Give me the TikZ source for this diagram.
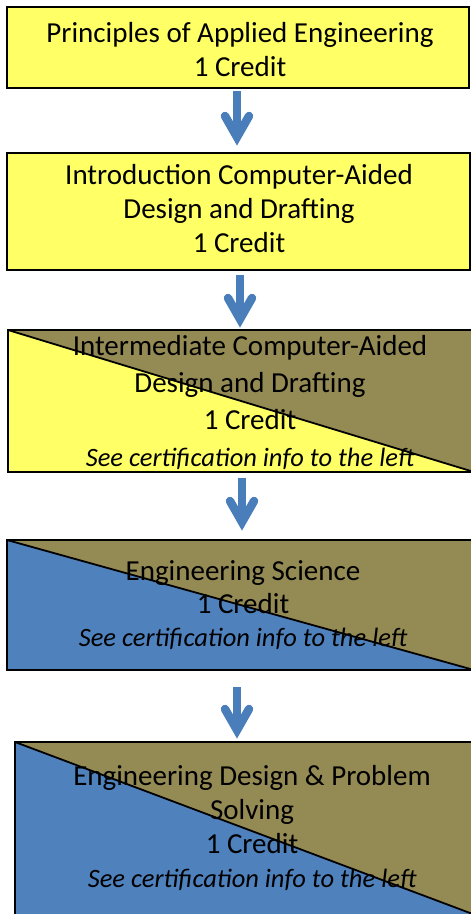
\documentclass[tikz,border=0pt]{standalone}
\usepackage{fontspec}
\setmainfont{Carlito}
\definecolor{boxyellow}{HTML}{FFFF66}
\definecolor{boxolive}{HTML}{948A54}
\definecolor{boxblue}{HTML}{4F81BD}
\definecolor{arrowblue}{HTML}{4A7EBB}
\newcommand{\certnote}{{\fontsize{26.5}{34}\selectfont\itshape See certification info to the left}}
\begin{document}
\begin{tikzpicture}[x=1pt,y=-1pt,
  box/.style={draw=black, line width=2.5pt, inner sep=0pt},
  plainbox/.style={box, fill=boxyellow},
  splitbox/.style={box, fill=#1,
    path picture={
      \fill[boxolive] (path picture bounding box.north west) -- (path picture bounding box.north east) -- (path picture bounding box.south east) -- cycle;
      \draw[black, line width=1.8pt] (path picture bounding box.north west) -- (path picture bounding box.south east);
    }},
  label/.style={align=center, inner sep=0pt, font=\fontsize{29}{34}\selectfont},
  flowshaft/.style={draw=arrowblue, line width=8pt, line cap=butt},
  flowhead/.style={draw=arrowblue, line width=8.5pt, line cap=round, line join=miter},
]
\useasboundingbox (0,0) rectangle (471,914);
\clip (0,0) rectangle (471,914);

% boxes
\node[plainbox, minimum width=462pt, minimum height=81pt] (b1) at (238,47.5) {};
\node[plainbox, minimum width=463pt, minimum height=117pt] (b2) at (238.5,211.5) {};
\node[splitbox=boxyellow, minimum width=466pt, minimum height=142pt] (b3) at (241,401) {};
\node[splitbox=boxblue, minimum width=467pt, minimum height=130pt] (b4) at (240.5,605) {};
\node[splitbox=boxblue, minimum width=463pt, minimum height=174pt] (b5) at (246.5,829) {};

% texts
\node[label] (t1) at (240,50) {Principles of Applied Engineering\\1 Credit};
\node[label] (t2) at (239,209) {Introduction Computer-Aided\\Design and Drafting\\1 Credit};
\node[label, font=\fontsize{29}{37}\selectfont] (t3) at (250,402) {Intermediate Computer-Aided\\Design and Drafting\\1 Credit\\\certnote};
\node[label, font=\fontsize{29}{33}\selectfont] (t4) at (243,605) {Engineering Science\\1 Credit\\\certnote};
\node[label, font=\fontsize{29}{34}\selectfont] (t5) at (252,828) {Engineering Design \& Problem\\Solving\\1 Credit\\\certnote};

% arrow coordinates
\coordinate (a1s) at (237,91);  \coordinate (a1t) at (237,137);
\coordinate (a2s) at (240,275); \coordinate (a2t) at (240,319);
\coordinate (a3s) at (242,478); \coordinate (a3t) at (242,522);
\coordinate (a4s) at (237,687); \coordinate (a4t) at (237,730);

\foreach \n in {1,2,3,4}{
  \draw[flowshaft] (a\n s) -- (a\n t);
  \draw[flowhead] ([shift={(-12,-21)}]a\n t) -- (a\n t) -- ([shift={(12,-21)}]a\n t);
}
\end{tikzpicture}
\end{document}
